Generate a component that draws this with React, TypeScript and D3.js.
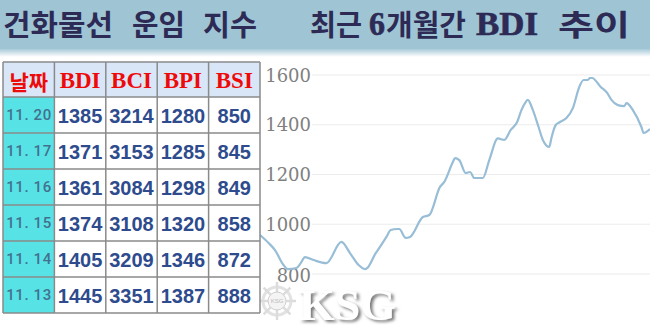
import React from "react";
import * as d3 from "d3";

// ---- data ----
const titleLeft = ["건화물선", "운임", "지수"];
const titleRight = ["최근", "6", "개월간", "BDI", "추이"];
const dates = ["11. 20", "11. 17", "11. 16", "11. 15", "11. 14", "11. 13"];
const headerDate = "날짜";
const indexNames = ["BDI", "BCI", "BPI", "BSI"];
const bdi = [1385, 1371, 1361, 1374, 1405, 1445];
const bci = [3214, 3153, 3084, 3108, 3209, 3351];
const bpi = [1280, 1285, 1298, 1320, 1346, 1387];
const bsi = [850, 845, 849, 858, 872, 888];
const yTicks = [800, 1000, 1200, 1400, 1600];
// day offset within the 6-month window, and BDI value
const trendDays = [0, 4, 7, 11, 13, 17, 19, 21, 25, 31, 38, 42, 46, 49, 50, 54, 56, 59, 61, 64, 65, 68, 70, 76, 79, 84, 86, 90, 91, 93, 96, 98, 100, 104, 107, 111, 114, 117, 120, 122, 124, 125, 127, 130, 132, 135, 136, 138, 140, 143, 146, 149, 151, 153, 154, 155, 159, 162, 164, 167, 170, 171, 174, 178, 179, 182];
const trendValues = [957, 925, 896, 836, 820, 824, 844, 868, 856, 844, 929, 884, 836, 820, 824, 884, 909, 949, 977, 981, 981, 945, 949, 1029, 1037, 1150, 1170, 1250, 1266, 1258, 1206, 1210, 1186, 1186, 1258, 1345, 1339, 1379, 1411, 1459, 1491, 1500, 1467, 1391, 1339, 1311, 1347, 1399, 1411, 1427, 1467, 1552, 1580, 1580, 1588, 1588, 1552, 1528, 1500, 1479, 1475, 1487, 1459, 1391, 1367, 1383];

const W = 650, H = 334;
const KR = "'Noto Sans CJK KR', 'Noto Sans', sans-serif";
const SERIF = "'Liberation Serif', 'DejaVu Serif', serif";

export default function App() {
  const x = d3.scaleLinear().domain([0, 182]).range([260, 650]);
  const y = d3.scaleLinear().domain([800, 1600]).range([274, 75]);
  const line = d3.line<number>()
    .x((_, i) => x(trendDays[i]))
    .y((d) => y(d))
    .curve(d3.curveMonotoneX);

  const tableLeft = 3, tableRight = 260, tableTop = 62, headerH = 35, rowH = 36;
  const colX = d3.scaleLinear().domain([0, 5]).range([tableLeft, tableRight]);
  const rowY = (r: number) => tableTop + headerH + r * rowH;
  const cols = [bdi, bci, bpi, bsi];
  const tableBottom = rowY(dates.length);

  // title word positions [start, width]
  const lPos = [[3, 110], [132, 53], [203, 54]];
  const rPos = [[310, 52], [369, 16], [386, 80], [476, 62], [558, 72]];

  return (
    <svg width={W} height={H} style={{ position: "absolute", left: 0, top: 0, background: "#fff" }}>
      <defs>
        <linearGradient id="band" x1="0" y1="0" x2="0" y2="1">
          <stop offset="0" stopColor="#a9cbda" />
          <stop offset="1" stopColor="#ffffff" />
        </linearGradient>
        <filter id="sh" x="-20%" y="-20%" width="140%" height="140%">
          <feDropShadow dx="2.5" dy="2" stdDeviation="1.4" floodColor="#777" floodOpacity="1" />
        </filter>
      </defs>
      {/* title bar */}
      <rect x={0} y={0} width={W} height={49} fill="#9fc4d4" />
      <rect x={0} y={49} width={W} height={8} fill="url(#band)" />
      {titleLeft.map((t, i) => (
        <text key={t} x={lPos[i][0]} y={36} fontFamily={KR} fontWeight={700} fontSize={29}
          fill="#2d2b55" textLength={lPos[i][1]} lengthAdjust="spacingAndGlyphs">{t}</text>
      ))}
      {titleRight.map((t, i) => {
        const serif = /^[0-9A-Z]+$/.test(t);
        return (
          <text key={t} x={rPos[i][0]} y={serif ? 35 : 36} fontFamily={serif ? SERIF : KR} fontWeight={700}
            fontSize={serif ? 33 : 29} fill="#2d2b55" stroke={serif ? "#2d2b55" : "none"} strokeWidth={serif ? 0.6 : 0}
            textLength={rPos[i][1]} lengthAdjust="spacingAndGlyphs">{t}</text>
        );
      })}

      {/* chart grid + labels */}
      {yTicks.map((v) => (
        <g key={v}>
          <line x1={312} x2={650} y1={y(v)} y2={y(v)} stroke="#ececec" strokeWidth={1.2} />
          <text x={311} y={y(v) + (v === 800 ? 1 : 0)} textAnchor="end" dominantBaseline="central"
            fontFamily="'DejaVu Serif', serif" fontSize={18} fill="#808080">{v}</text>
        </g>
      ))}
      <path d={line(trendValues) || ""} fill="none" stroke="#98bdd6" strokeWidth={2.2} strokeLinejoin="round" />

      {/* watermark */}
      <g>
        <circle cx={277} cy={301} r={14} fill="none" stroke="#e2e2e2" strokeWidth={3} />
        {d3.range(8).map((k) => {
          const a = (k * Math.PI) / 4;
          return <line key={k} x1={277 + Math.cos(a) * 9} y1={301 + Math.sin(a) * 9} x2={277 + Math.cos(a) * 19} y2={301 + Math.sin(a) * 19}
            stroke="#dcdcdc" strokeWidth={2.5} />;
        })}
        <circle cx={277} cy={301} r={9} fill="#f4f4f4" stroke="#cfcfcf" strokeWidth={1} />
        <text x={277} y={303} textAnchor="middle" fontSize={6} fontFamily="sans-serif" fill="#bbb">KSG</text>
        <text x={299} y={320} fontFamily={SERIF} fontWeight={700} fontSize={44} fill="#ffffff"
          filter="url(#sh)" textLength={97} lengthAdjust="spacingAndGlyphs">KSG</text>
      </g>

      {/* table */}
      <rect x={tableLeft} y={tableTop} width={tableRight - tableLeft} height={headerH} fill="#d9e6f7" />
      <rect x={tableLeft} y={rowY(0)} width={colX(1) - tableLeft} height={tableBottom - rowY(0)} fill="#57e3e6" />
      <rect x={colX(1)} y={rowY(0)} width={tableRight - colX(1)} height={tableBottom - rowY(0)} fill="#ffffff" />
      {d3.range(6).map((c) => (
        <line key={"v" + c} x1={colX(c)} x2={colX(c)} y1={tableTop} y2={tableBottom} stroke="#8a8a8a" strokeWidth={1.5} />
      ))}
      {[tableTop, ...d3.range(dates.length + 1).map(rowY)].map((yy, i) => (
        <line key={"h" + i} x1={tableLeft} x2={tableRight} y1={yy} y2={yy} stroke="#8a8a8a" strokeWidth={1.5} />
      ))}
      <text x={(colX(0) + colX(1)) / 2} y={tableTop + headerH / 2 + 1} textAnchor="middle" dominantBaseline="central"
        fontFamily={KR} fontWeight={700} fontSize={21} fill="#ee0a0a">{headerDate}</text>
      {indexNames.map((n, i) => (
        <text key={n} x={(colX(i + 1) + colX(i + 2)) / 2} y={tableTop + headerH / 2 + 8} textAnchor="middle"
          fontFamily={SERIF} fontWeight={700} fontSize={23} fill="#ee0a0a">{n}</text>
      ))}
      {dates.map((d, r) => (
        <g key={d}>
          <text x={(colX(0) + colX(1)) / 2} y={rowY(r) + rowH / 2 + 5} textAnchor="middle"
            fontFamily="Roboto, 'DejaVu Sans', sans-serif" fontWeight={500} fontSize={15} fill="#44708f"
            textLength={45} lengthAdjust="spacing">{d}</text>
          {cols.map((col, c) => (
            <text key={c} x={(colX(c + 1) + colX(c + 2)) / 2} y={rowY(r) + rowH / 2 + 7.5} textAnchor="middle"
              fontFamily="'Liberation Sans', Arial, sans-serif" fontWeight={700} fontSize={20} fill="#2d4b8d">{col[r]}</text>
          ))}
        </g>
      ))}
    </svg>
  );
}
